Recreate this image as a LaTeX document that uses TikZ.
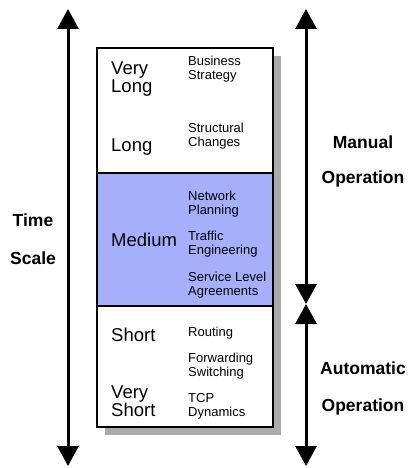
\documentclass[tikz,border=0pt]{standalone}
\usepackage{fontspec}
\setmainfont{Liberation Sans}
\usetikzlibrary{arrows.meta}

\definecolor{mediumblue}{RGB}{166,176,250}

\tikzset{
  scalearrow/.style={line width=3pt,{Triangle[width=21pt,length=20pt]}-{Triangle[width=21pt,length=20pt]}},
  bigtext/.style={anchor=west,align=left,inner sep=0pt,font=\fontsize{18.5}{18}\selectfont},
  smalltext/.style={anchor=west,align=left,inner sep=0pt,font=\fontsize{13}{14}\selectfont},
  sidetext/.style={inner sep=0pt,font=\fontsize{17.5}{18}\selectfont\bfseries}
}

\begin{document}
\begin{tikzpicture}[x=1pt,y=-1pt]
    \useasboundingbox (0,0) rectangle (411,468);

    % shadow, box and medium band
    \fill[black!33] (105,56) rectangle (281,435);
    \draw[line width=2.5pt,fill=white] (97,48) rectangle (273,427);
    \draw[line width=2.5pt,fill=mediumblue] (97,173) rectangle (273,306);

    % time scales
    \node[bigtext] (vlong) at (111,79) {Very\\Long};
    \node[bigtext] (long) at (111,147) {Long};
    \node[bigtext] (medium) at (111,240) {Medium};
    \node[bigtext] (short) at (111,335) {Short};
    \node[bigtext] (vshort) at (111,401) {Very\\Short};

    % tasks
    \node[smalltext] (business) at (188,69) {Business\\Strategy};
    \node[smalltext] (struct) at (188,136) {Structural\\Changes};
    \node[smalltext] (netplan) at (188,204) {Network\\Planning};
    \node[smalltext] (traffic) at (188,244) {Traffic\\Engineering};
    \node[smalltext] (sla) at (188,285) {Service Level\\Agreements};
    \node[smalltext] (routing) at (188,333) {Routing};
    \node[smalltext] (fwd) at (188,366) {Forwarding\\Switching};
    \node[smalltext] (tcp) at (188,406) {TCP\\Dynamics};

    % side labels
    \node[sidetext] (time) at (33,220) {Time};
    \node[sidetext] (scale) at (33,258) {Scale};
    \node[sidetext] (manual) at (363,142) {Manual};
    \node[sidetext] (manop) at (363,179) {Operation};
    \node[sidetext] (auto) at (363,368) {Automatic};
    \node[sidetext] (autoop) at (363,407) {Operation};

    % arrows
    \coordinate (lefttop) at (68,9);
    \coordinate (leftbot) at (68,466);
    \coordinate (righttop) at (306,9);
    \coordinate (rightmid) at (306,304);
    \coordinate (rightbot) at (306,466);

    \draw[scalearrow] (lefttop) -- (leftbot);
    \draw[scalearrow] (righttop) -- (rightmid);
    \draw[scalearrow] (rightmid) -- (rightbot);

\end{tikzpicture}
\end{document}
